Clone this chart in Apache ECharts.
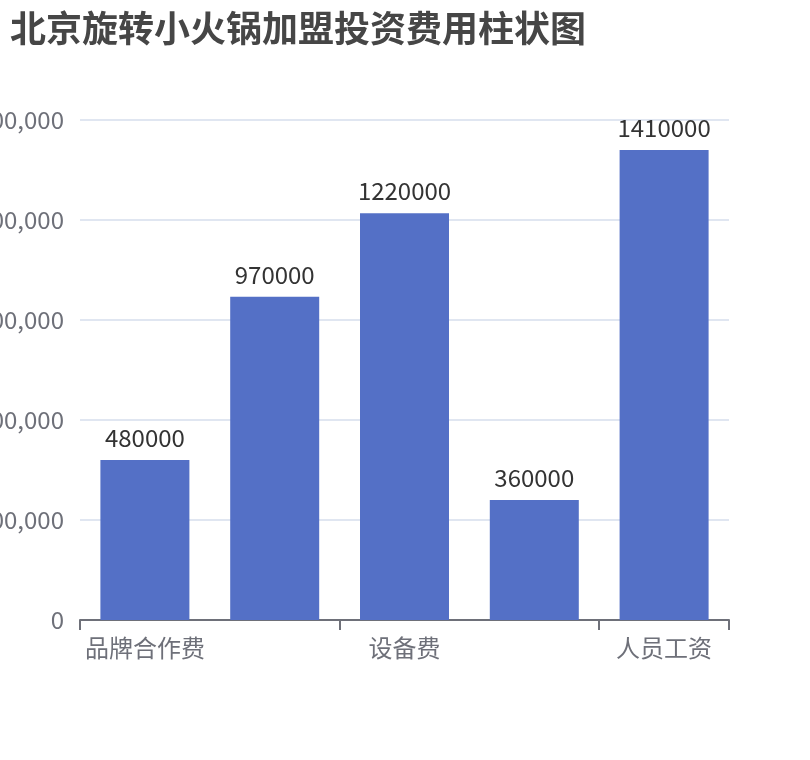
<!DOCTYPE html>
<html>
<head>
    <meta charset="UTF-8">
    <title>北京旋转小火锅加盟投资费用柱状图</title>
    <script src="https://cdn.jsdelivr.net/npm/echarts@6/dist/echarts.min.js"></script>
    <style type="text/css">
        body{margin: 0;padding: 0;}
        #main{width: 810px;height: 760px;}
    </style>
</head>
<body>
    <div id="main"></div>
    <script type="text/javascript">
        // 费用类别 (2、4 两项在图上被隐藏，按常见项目估计)
        var categories = ['品牌合作费', '店面装修费', '设备费', '房租费', '人员工资'];
        var costs = [480000, 970000, 1220000, 360000, 1410000];
        var yMax = 1500000;
        var yStep = 300000;

        var chart = echarts.init(document.getElementById('main'));
        chart.setOption({
            animation: false,
            title: {
                text: '北京旋转小火锅加盟投资费用柱状图',
                left: 0,
                top: 0,
                padding: 10,
                textStyle: {fontSize: 36, fontWeight: 'bold', color: '#464646',
                    fontFamily: 'Noto Sans CJK SC'}
            },
            grid: {left: 80, right: 81, top: 120, bottom: 140,
                containLabel: false, outerBoundsMode: 'none'},
            xAxis: {
                type: 'category',
                data: categories,
                axisLine: {lineStyle: {width: 2, color: '#6E7079'}},
                axisTick: {show: true, length: 10, lineStyle: {width: 2, color: '#6E7079'}},
                axisLabel: {interval: 1, fontSize: 24, margin: 16, color: '#6E7079',
                    fontFamily: 'Noto Sans CJK SC'}
            },
            yAxis: {
                type: 'value',
                min: 0,
                max: yMax,
                interval: yStep,
                axisLabel: {fontSize: 24, margin: 16, color: '#6E7079',
                    fontFamily: 'Noto Sans CJK SC'},
                splitLine: {lineStyle: {width: 2, color: '#E0E6F1'}}
            },
            series: [{
                type: 'bar',
                data: costs,
                barWidth: 89,
                itemStyle: {color: '#5470c6'},
                label: {show: true, position: 'top', distance: 10, fontSize: 24,
                    color: '#333', fontFamily: 'Noto Sans CJK SC'}
            }]
        });
    </script>
</body>
</html>
